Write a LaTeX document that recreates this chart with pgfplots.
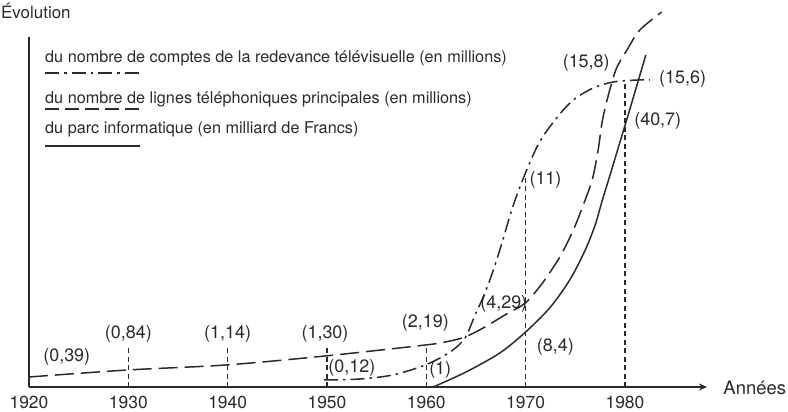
\documentclass[border=0pt]{standalone}
\usepackage{fontspec}
\setmainfont{TeX Gyre Heros}
\usepackage{pgfplots}
\pgfplotsset{compat=1.18}
\usetikzlibrary{arrows.meta}
\definecolor{ink}{HTML}{2A2A2A}
\tikzset{
  dashdot/.style={dash pattern=on 14bp off 5bp on 2.5bp off 5bp},
  longdash/.style={dash pattern=on 19bp off 7bp},
  guide/.style={dash pattern=on 5bp off 3.5bp, line width=1.2bp},
  lbl/.style={font=\fontsize{18}{21}\selectfont, text=ink, inner sep=0pt},
}
\begin{document}
\begin{tikzpicture}
\begin{axis}[
  scale only axis, width=678bp, height=350bp,
  xmin=1920, xmax=1988.26, ymin=0, ymax=350,
  axis x line=bottom, axis y line=left,
  axis line style={line width=1.3bp, ink},
  x axis line style={-{Stealth[length=8bp,width=7bp]}},
  y axis line style={-},
  xtick={1920,1930,1940,1950,1960,1970,1980},
  xticklabels={1920,1930,1940,1950,1960,1970,1980},
  ytick=\empty,
  major tick length=0pt,
  xticklabel style={anchor=base, yshift=-21.5bp, inner sep=0pt, font=\fontsize{17.5}{20}\selectfont, text=ink},
  clip=false,
  every axis plot/.append style={line width=1.5bp, ink},
]
% guides
\addplot[guide] coordinates {(1930,0) (1930,39)};
\addplot[guide] coordinates {(1940,0) (1940,39)};
\addplot[guide] coordinates {(1950,0) (1950,40)};
\addplot[guide] coordinates {(1960,0) (1960,40)};
\addplot[guide] coordinates {(1970,0) (1970,214)};
\addplot[guide] coordinates {(1980,0) (1980,305)};
% telephone lines (long dashes)
\addplot[longdash, smooth, tension=0.5] coordinates {
(1920,10) (1929.9,17) (1939.8,22) (1949.8,31) (1959.9,42) (1961.9,45)
(1963.9,50) (1965.9,60) (1967.9,72) (1969.4,80) (1970.1,85) (1971.7,104)
(1973.5,131) (1974.8,157) (1975.8,182) (1976.7,207) (1977.3,237) (1977.7,265)
(1978.2,287) (1978.7,305) (1979.2,320) (1980.2,337) (1981.5,357) (1983.7,375)};
% TV licences (dash-dot)
\addplot[dashdot, smooth, tension=0.5] coordinates {
(1949.7,7) (1953.3,8) (1956.6,12) (1959.9,22) (1962.4,35) (1963.9,49)
(1964.9,72) (1965.6,87) (1966.4,107) (1967.4,137) (1968.7,180) (1969.9,212)
(1971.4,245) (1973.2,270) (1974.8,287) (1976.8,299) (1978.8,305) (1981.2,307) (1982.5,307)};
% computers (solid)
\addplot[smooth, tension=0.5] coordinates {
(1960.7,0) (1964,15) (1967.4,34) (1970,55) (1972.5,80) (1974.5,108)
(1976,137) (1977,162) (1977.7,186) (1978.5,212) (1979.5,245) (1980.5,278) (1982.1,332)};
% annotations
\node[lbl] at (axis cs:1923.8,30) {(0,39)};
\node[lbl] at (axis cs:1930,53) {(0,84)};
\node[lbl] at (axis cs:1940,53) {(1,14)};
\node[lbl] at (axis cs:1949.8,53) {(1,30)};
\node[lbl] at (axis cs:1959.9,64) {(2,19)};
\node[lbl] at (axis cs:1952.5,19) {(0,12)};
\node[lbl] at (axis cs:1961.4,17) {(1)};
\node[lbl] at (axis cs:1967.8,83) {(4,29)};
\node[lbl] at (axis cs:1972,207) {(11)};
\node[lbl] at (axis cs:1973,40) {(8,4)};
\node[lbl] at (axis cs:1976.1,324) {(15,8)};
\node[lbl] at (axis cs:1985.8,308) {(15,6)};
\node[lbl] at (axis cs:1983.3,266) {(40,7)};
\node[lbl, anchor=base west, font=\fontsize{18.5}{22}\selectfont] at (axis cs:1989.9,-7) {Années};
\end{axis}
% legend (manual)
\begin{scope}[every node/.style={anchor=base west, inner sep=0pt, font=\fontsize{16.3}{19}\selectfont, text=ink}]
\node at (16bp,324bp) {du nombre de comptes de la redevance télévisuelle (en millions)};
\node at (16bp,283bp) {du nombre de lignes téléphoniques principales (en millions)};
\node at (16bp,253bp) {du parc informatique (en milliard de Francs)};
\end{scope}
\draw[ink, line width=1.5bp, dashdot] (16bp,314bp) -- (111bp,314bp);
\draw[ink, line width=1.5bp, dash pattern=on 14bp off 6bp] (16bp,278bp) -- (113bp,278bp);
\draw[ink, line width=1.5bp] (16bp,241bp) -- (111bp,241bp);
\node[anchor=base west, inner sep=0pt, font=\fontsize{17}{20}\selectfont, text=ink] at (-28bp,368bp) {Évolution};
\pgfresetboundingbox
\path[use as bounding box] (-29bp,-25bp) rectangle (759bp,387bp);
\end{tikzpicture}
\end{document}
